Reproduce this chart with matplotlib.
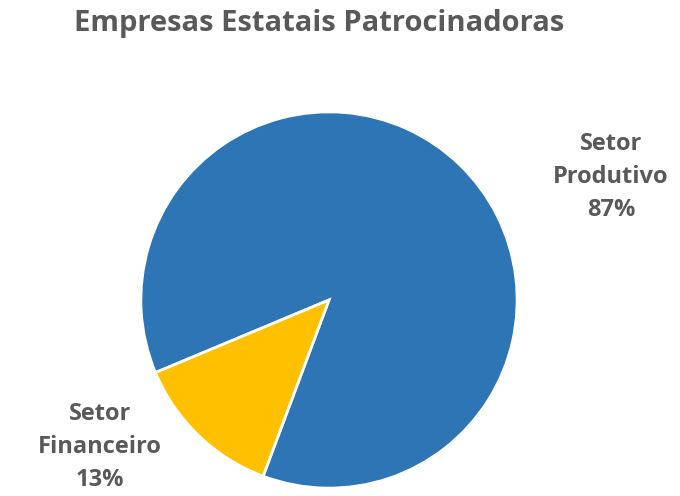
import matplotlib
matplotlib.use("Agg")
import matplotlib.pyplot as plt

labels = ["Setor\nProdutivo", "Setor\nFinanceiro"]
shares = [87, 13]
colors = ["#2E75B6", "#FFC000"]
title = "Empresas Estatais Patrocinadoras"

TXT = "#595959"
FONT = "Open Sans"

fig = plt.figure(figsize=(6.8, 4.96), dpi=100)
# pie box: centre (329, 300) px, radius 190 px
ax = fig.add_axes([139 / 680, 6 / 496, 380 / 680, 380 / 496])
ax.pie(shares, colors=colors, startangle=249.5, counterclock=True,
       wedgeprops=dict(edgecolor="white", linewidth=2))
ax.set_xlim(-1.01, 1.01); ax.set_ylim(-1.01, 1.01)
ax.set_aspect("equal")
ax.axis("off")

label_pos = [(611 / 680, 1 - 177 / 496), (100 / 680, 1 - 447 / 496)]
for lab, v, (x, y) in zip(labels, shares, label_pos):
    fig.text(x, y, f"{lab}\n{v}%", ha="center", va="center", fontsize=17,
             fontweight="bold", color=TXT, family=FONT, linespacing=1.5)

fig.text(319 / 680, 1 - 24 / 496, title, ha="center", va="center", fontsize=21,
         fontweight="bold", color=TXT, family=FONT)

fig.savefig("out.png", dpi=100)
